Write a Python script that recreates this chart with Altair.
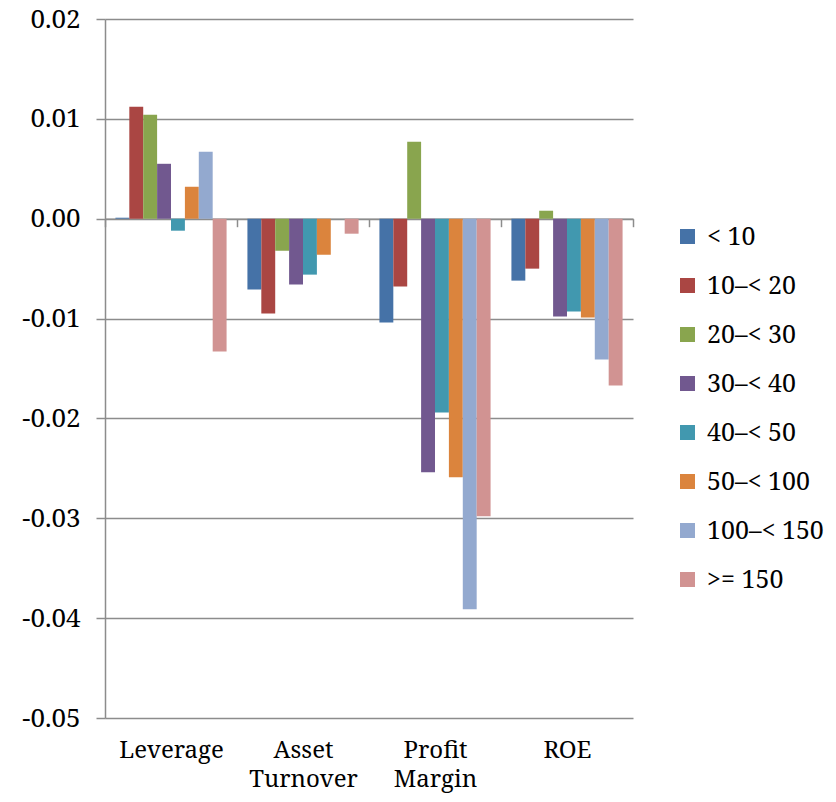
import altair as alt
import pandas as pd

categories = ["Leverage", "Asset Turnover", "Profit Margin", "ROE"]
groups = ["< 10", "10–< 20", "20–< 30", "30–< 40", "40–< 50", "50–< 100", "100–< 150", ">= 150"]
colors = ["#4572A7", "#AA4643", "#89A54E", "#71588F", "#4198AF", "#DB843D", "#93A9CF", "#D19392"]

leverage = [0.0001, 0.0112, 0.0104, 0.0055, -0.0012, 0.0032, 0.0067, -0.0133]
asset_turnover = [-0.0071, -0.0095, -0.0032, -0.0066, -0.0056, -0.0036, 0.0, -0.0015]
profit_margin = [-0.0104, -0.0068, 0.0077, -0.0254, -0.0194, -0.0259, -0.0391, -0.0298]
roe = [-0.0062, -0.0050, 0.0008, -0.0098, -0.0093, -0.0099, -0.0141, -0.0167]

y_ticks = [0.02, 0.01, 0.0, -0.01, -0.02, -0.03, -0.04, -0.05]

rows = []
for cat, vals in zip(categories, [leverage, asset_turnover, profit_margin, roe]):
    for g, v in zip(groups, vals):
        rows.append({"measure": cat, "group": g, "value": v})
df = pd.DataFrame(rows)

font = "Noto Serif"
grid = "#8c8c8c"

chart = (
    alt.Chart(df)
    .mark_bar()
    .encode(
        x=alt.X(
            "measure:N",
            sort=categories,
            scale=alt.Scale(paddingInner=0, paddingOuter=0),
            axis=alt.Axis(
                title=None,
                labelAngle=0,
                offset=-499.3,
                domainColor=grid,
                domainWidth=1.5,
                tickColor=grid,
                tickWidth=1.5,
                tickSize=8,
                tickBand="extent",
                labelPadding=531,
                labelFont=font,
                labelFontSize=24,
                labelColor="black",
                labelBaseline="alphabetic",
                labelLineHeight=29,
                labelExpr="split(datum.label, ' ')",
                grid=False,
            ),
        ),
        xOffset=alt.XOffset(
            "group:N",
            sort=groups,
            scale=alt.Scale(paddingInner=0, paddingOuter=0.75),
        ),
        y=alt.Y(
            "value:Q",
            scale=alt.Scale(domain=[-0.05, 0.02], nice=False, zero=False),
            axis=alt.Axis(
                title=None,
                values=y_ticks,
                labelExpr="(datum.value < 0 ? '-' : '') + format(abs(datum.value), '.2f')",
                grid=True,
                gridColor=grid,
                gridWidth=1.5,
                domainColor=grid,
                domainWidth=1.5,
                tickColor=grid,
                tickWidth=1.5,
                tickSize=9,
                labelPadding=16,
                labelFont=font,
                labelFontSize=26,
                labelColor="black",
            ),
        ),
        color=alt.Color(
            "group:N",
            sort=groups,
            scale=alt.Scale(domain=groups, range=colors),
            legend=alt.Legend(
                title=None,
                orient="none",
                legendX=570,
                legendY=205,
                padding=0,
                symbolType="square",
                symbolSize=225,
                symbolStrokeWidth=0,
                labelFont=font,
                labelFontSize=25,
                labelColor="black",
                labelOffset=7,
                rowPadding=23,
            ),
        ),
    )
    .properties(
        width=528,
        height=699,
        autosize=alt.AutoSizeParams(type="none"),
        padding={"left": 97, "top": 11, "right": 195, "bottom": 76},
    )
    .configure_view(stroke="transparent")
)

chart.save("out.html", embed_options={"renderer": "svg", "actions": False})
